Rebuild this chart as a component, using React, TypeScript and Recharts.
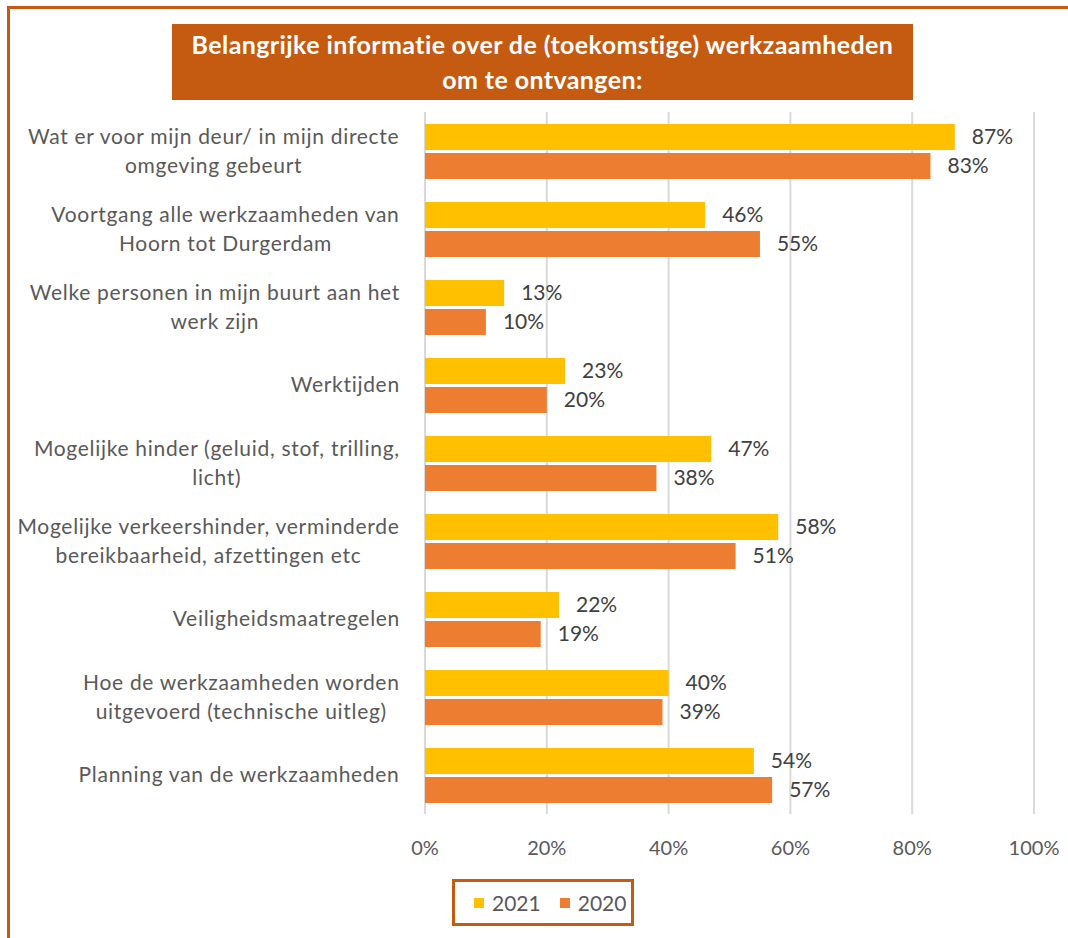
import React from 'react';
import { BarChart, Bar, XAxis, YAxis, CartesianGrid, LabelList } from 'recharts';

const FONT = 'Lato, "Open Sans", sans-serif';

const categories = [
    'Wat er voor mijn deur/ in mijn directe\nomgeving gebeurt',
    'Voortgang alle werkzaamheden van\nHoorn tot Durgerdam',
    'Welke personen in mijn buurt aan het\nwerk zijn',
    'Werktijden',
    'Mogelijke hinder (geluid, stof, trilling,\nlicht)',
    'Mogelijke verkeershinder, verminderde\nbereikbaarheid, afzettingen etc',
    'Veiligheidsmaatregelen',
    'Hoe de werkzaamheden worden\nuitgevoerd (technische uitleg)',
    'Planning van de werkzaamheden',
];
const values2021 = [87, 46, 13, 23, 47, 58, 22, 40, 54];
const values2020 = [83, 55, 10, 20, 38, 51, 19, 39, 57];
const xTicks = [0, 20, 40, 60, 80, 100];

const series = [
    { key: 'y2021', name: '2021', color: '#FFC000' },
    { key: 'y2020', name: '2020', color: '#ED7D31' },
];

const chartData = categories.map((name, i) => ({
    name,
    y2021: values2021[i],
    y2020: values2020[i],
}));

let ctx: CanvasRenderingContext2D | null = null;
function measure(text: string, font: string, spacing: number) {
    if (!ctx) ctx = document.createElement('canvas').getContext('2d');
    if (!ctx) return text.length * 10;
    ctx.font = font;
    return ctx.measureText(text).width + spacing * text.length;
}

function CategoryTick(props: any) {
    const { x, y, payload } = props;
    const lines: string[] = String(payload.value).split('\n');
    const spacing = 0.7;
    const widest = Math.max(...lines.map((l) => measure(l, `21px ${FONT}`, spacing)));
    const cx = x - widest / 2;
    const lineH = 28.5;
    const start = -((lines.length - 1) * lineH) / 2;
    return (
        <text
            x={cx}
            y={y}
            textAnchor="middle"
            fill="#595959"
            fontSize={21}
            fontFamily={FONT}
            letterSpacing={spacing}
        >
            {lines.map((l, i) => (
                <tspan key={i} x={cx} y={y + start + i * lineH} dy="0.35em">
                    {l}
                </tspan>
            ))}
        </text>
    );
}

export default function App() {
    return (
        <div
            style={{
                position: 'absolute',
                left: 0,
                top: 0,
                width: 1068,
                height: 938,
                overflow: 'hidden',
                background: '#fff',
                fontFamily: FONT,
            }}
        >
            <div
                style={{
                    position: 'absolute',
                    left: 7,
                    top: 6,
                    width: 1100,
                    height: 1000,
                    border: '3px solid #C55A11',
                }}
            />
            <div
                style={{
                    position: 'absolute',
                    left: 172,
                    top: 24,
                    width: 741,
                    height: 76,
                    background: '#C55A11',
                    color: '#fff',
                    fontWeight: 700,
                    fontSize: 25,
                    letterSpacing: 0.4,
                    lineHeight: '35px',
                    textAlign: 'center',
                    paddingTop: 3,
                    boxSizing: 'border-box',
                    whiteSpace: 'nowrap',
                }}
            >
                Belangrijke informatie over de (toekomstige) werkzaamheden
                <br />
                om te ontvangen:
            </div>
            <div style={{ position: 'absolute', left: 0, top: 0 }}>
                <BarChart
                    width={1068}
                    height={938}
                    data={chartData}
                    layout="vertical"
                    margin={{ top: 112, right: 34, bottom: 94, left: 0 }}
                    barSize={26}
                    barGap={3}
                    barCategoryGap={23}
                >
                    <CartesianGrid horizontal={false} stroke="#d9d9d9" strokeWidth={2} />
                    <XAxis
                        type="number"
                        domain={[0, 100]}
                        ticks={xTicks}
                        tickFormatter={(v) => `${v}%`}
                        axisLine={false}
                        tickLine={false}
                        tickSize={0}
                        tickMargin={27}
                        height={30}
                        tick={{ fill: '#595959', fontSize: 20, fontFamily: FONT }}
                        interval={0}
                    />
                    <YAxis
                        type="category"
                        dataKey="name"
                        width={425}
                        axisLine={false}
                        tickLine={false}
                        tickSize={0}
                        tickMargin={25}
                        tick={<CategoryTick />}
                        interval={0}
                    />
                    {series.map((s) => (
                        <Bar key={s.key} dataKey={s.key} name={s.name} fill={s.color} isAnimationActive={false}>
                            <LabelList
                                dataKey={s.key}
                                position="right"
                                offset={17}
                                formatter={(v: any) => `${v}%`}
                                fill="#404040"
                                fontSize={21}
                                fontFamily={FONT}
                            />
                        </Bar>
                    ))}
                </BarChart>
            </div>
            <div
                style={{
                    position: 'absolute',
                    left: 452,
                    top: 879,
                    width: 182,
                    height: 47,
                    border: '3px solid #C55A11',
                    boxSizing: 'border-box',
                    display: 'flex',
                    alignItems: 'center',
                    paddingLeft: 19,
                    color: '#595959',
                    fontSize: 21,
                }}
            >
                {series.map((s) => (
                    <span key={s.key} style={{ display: 'flex', alignItems: 'center', marginRight: 19 }}>
                        <span
                            style={{ width: 10, height: 10, background: s.color, marginRight: 8, display: 'inline-block' }}
                        />
                        {s.name}
                    </span>
                ))}
            </div>
        </div>
    );
}
